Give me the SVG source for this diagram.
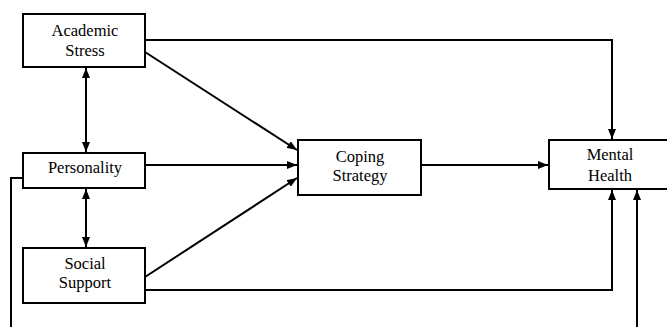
<svg xmlns="http://www.w3.org/2000/svg" width="667" height="327" viewBox="0 0 667 327">
<defs>
<marker id="ah" viewBox="0 0 10 8" refX="10" refY="4" markerWidth="10" markerHeight="8" markerUnits="userSpaceOnUse" orient="auto-start-reverse">
<path d="M0,0 L10,4 L0,8 Z" fill="#000"/>
</marker>
<style>
.box{fill:#fff;stroke:#000;stroke-width:2}
.lbl{font-size:16.5px;fill:#000;text-anchor:middle}
.c{fill:none;stroke:#000;stroke-width:2}
</style>
</defs>
<rect width="667" height="327" fill="#fff"/>
<g id="connectors">
<polyline class="c" points="145,40 612,40 612,139" marker-end="url(#ah)"/>
<line class="c" x1="145" y1="52" x2="297" y2="150" marker-end="url(#ah)"/>
<line class="c" x1="145" y1="165" x2="297" y2="165" marker-end="url(#ah)"/>
<line class="c" x1="145" y1="277" x2="297" y2="178" marker-end="url(#ah)"/>
<polyline class="c" points="145,290 612,290 612,190" marker-end="url(#ah)"/>
<line class="c" x1="421" y1="165" x2="548" y2="165" marker-end="url(#ah)"/>
<line class="c" x1="86" y1="68" x2="86" y2="152" marker-start="url(#ah)" marker-end="url(#ah)"/>
<line class="c" x1="86" y1="189" x2="86" y2="247" marker-start="url(#ah)" marker-end="url(#ah)"/>
<polyline class="c" points="23,178 11,178 11,330"/>
<line class="c" x1="637" y1="330" x2="637" y2="190" marker-end="url(#ah)"/>
</g>
<g font-family="'Liberation Serif', 'DejaVu Serif', serif">
<g id="academic-stress">
<rect class="box" x="23" y="14" width="122" height="53"/>
<text class="lbl" x="85" y="35.5">Academic</text>
<text class="lbl" x="85" y="56">Stress</text>
</g>
<g id="personality">
<rect class="box" x="23" y="153" width="122" height="35"/>
<text class="lbl" x="85" y="173">Personality</text>
</g>
<g id="social-support">
<rect class="box" x="23" y="248" width="122" height="55"/>
<text class="lbl" x="85" y="269">Social</text>
<text class="lbl" x="85" y="288">Support</text>
</g>
<g id="coping-strategy">
<rect class="box" x="298" y="140" width="123" height="55"/>
<text class="lbl" x="360" y="161.5">Coping</text>
<text class="lbl" x="360" y="181">Strategy</text>
</g>
<g id="mental-health">
<rect class="box" x="549" y="140" width="123" height="49"/>
<text class="lbl" x="610" y="160">Mental</text>
<text class="lbl" x="610" y="181">Health</text>
</g>
</g>
</svg>
